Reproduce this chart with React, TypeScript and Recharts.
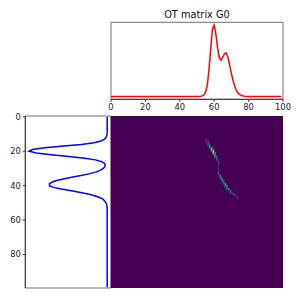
import { LineChart, Line, XAxis, YAxis, ReferenceArea, ScatterChart, Scatter } from 'recharts';

const topTicks = [0, 20, 40, 60, 80, 100];
const leftTicks = [0, 20, 40, 60, 80];

// target histogram, index 0..99
const targetValues = [
    0, 0, 0, 0, 0, 0, 0, 0, 0, 0,
    0, 0, 0, 0, 0, 0, 0, 0, 0, 0,
    0, 0, 0, 0, 0, 0, 0, 0, 0, 0,
    0, 0, 0, 0, 0, 0, 0, 0, 0, 0,
    0, 0, 0, 0, 0, 0, 0, 0, 0, 0,
    0, 0.001, 0.003, 0.008, 0.02, 0.06, 0.16, 0.38, 0.68, 0.95,
    1, 0.87, 0.68, 0.54, 0.51, 0.55, 0.6, 0.61, 0.55, 0.44,
    0.32, 0.22, 0.14, 0.08, 0.045, 0.025, 0.012, 0.005, 0.002, 0,
    0, 0, 0, 0, 0, 0, 0, 0, 0, 0,
    0, 0, 0, 0, 0, 0, 0, 0, 0, 0,
];

// source histogram, index 0..99
const sourceValues = [
    0, 0, 0, 0, 0, 0, 0, 0, 0, 0,
    0.002, 0.006, 0.015, 0.035, 0.08, 0.17, 0.33, 0.56, 0.8, 0.96,
    1, 0.91, 0.72, 0.49, 0.29, 0.15, 0.07, 0.035, 0.025, 0.03,
    0.05, 0.085, 0.14, 0.22, 0.32, 0.44, 0.55, 0.65, 0.71, 0.74,
    0.74, 0.69, 0.59, 0.46, 0.34, 0.23, 0.15, 0.09, 0.05, 0.03,
    0.015, 0.007, 0.003, 0.001, 0, 0, 0, 0, 0, 0,
    0, 0, 0, 0, 0, 0, 0, 0, 0, 0,
    0, 0, 0, 0, 0, 0, 0, 0, 0, 0,
    0, 0, 0, 0, 0, 0, 0, 0, 0, 0,
    0, 0, 0, 0, 0, 0, 0, 0, 0, 0,
];

// non zero cells of the matrix
const cellRows = [
    13, 14, 14, 15, 15, 16, 16, 17, 17, 18, 18, 19, 19, 20, 20, 21, 21, 22, 22, 23, 23, 24, 24, 25, 25,
    26, 27, 28, 29, 30, 31, 32, 33, 34, 34, 35, 35, 36, 36, 37, 37, 38, 38, 39, 39, 40, 40, 41, 41, 42, 42,
    43, 43, 44, 44, 45, 45, 46, 47, 48, 49,
];
const cellCols = [
    55, 55, 56, 56, 55, 56, 57, 57, 56, 58, 57, 58, 59, 59, 58, 59, 60, 60, 59, 60, 61, 61, 60, 61, 62,
    62, 62, 62, 62, 62, 62, 62, 62, 63, 62, 63, 64, 64, 63, 64, 65, 65, 64, 66, 65, 66, 67, 67, 66, 68, 67,
    69, 68, 69, 70, 71, 70, 72, 73, 73, 74,
];
const cellValues = [
    0.06, 0.14, 0.06, 0.28, 0.08, 0.38, 0.16, 0.55, 0.15, 0.6, 0.32, 0.85, 0.38, 1, 0.35, 0.85, 0.45, 0.72, 0.2, 0.5, 0.28, 0.38, 0.12, 0.26, 0.12,
    0.24, 0.18, 0.14, 0.12, 0.12, 0.14, 0.22, 0.3, 0.4, 0.1, 0.45, 0.12, 0.55, 0.14, 0.5, 0.25, 0.6, 0.15, 0.68, 0.25, 0.62, 0.3, 0.58, 0.2, 0.5, 0.2,
    0.45, 0.15, 0.4, 0.15, 0.34, 0.12, 0.26, 0.18, 0.1, 0.05,
];

const viridis = ['#440154', '#482878', '#3e4989', '#31688e', '#26828e', '#1f9e89', '#35b779', '#6ece58', '#b5de2b', '#fde725'];

const targetData = targetValues.map((v, i) => ({ i, v }));
const sourceData = sourceValues.map((v, i) => ({ i, v }));
const cellData = cellRows.map((row, k) => ({ row, col: cellCols[k], value: cellValues[k] }));

const font = 'DejaVu Sans';
const tickStyle = { fontSize: 8.4, fontFamily: font, fill: '#222' };

const cellShape = (props: any) => {
    const c = viridis[Math.min(9, Math.round(props.payload.value * 9))];
    return <rect x={props.cx - 0.86} y={props.cy - 0.86} width={1.72} height={1.72} fill={c} />;
};

export default function App() {
    return (
        <div style={{ position: 'fixed', left: 0, top: 0, width: 300, height: 300, background: '#fff' }}>
            <div style={{ position: 'absolute', left: 100, top: 0 }}>
                <LineChart width={200} height={116} data={targetData} margin={{ left: 11, right: 17, top: 22.3, bottom: 0.7 }}>
                    <text x={97} y={18} textAnchor="middle" fontSize={9.8} fontFamily={font} fill="#111">OT matrix G0</text>
                    <XAxis dataKey="i" type="number" domain={[0, 100]} ticks={topTicks} height={16} tick={tickStyle} tickSize={2.5} stroke="#333" interval={0} />
                    <YAxis hide domain={[-0.04, 1.04]} />
                    <ReferenceArea x1={0} x2={100} y1={-0.04} y2={1.04} fill="none" stroke="#333" strokeWidth={0.7} />
                    <Line dataKey="v" stroke="#ff0000" strokeWidth={1.5} dot={false} isAnimationActive={false} />
                </LineChart>
            </div>
            <div style={{ position: 'absolute', left: 0, top: 108 }}>
                <LineChart layout="vertical" width={112} height={182} data={sourceData} margin={{ left: 0.3, right: 1.3, top: 8, bottom: 2 }}>
                    <XAxis type="number" hide reversed domain={[-0.045, 1.05]} />
                    <YAxis dataKey="i" type="number" domain={[-0.5, 99.5]} ticks={leftTicks} width={25} tick={tickStyle} tickSize={2.5} stroke="#333" interval={0} />
                    <ReferenceArea x1={-0.045} x2={1.05} y1={-0.5} y2={99.5} fill="none" stroke="#333" strokeWidth={0.7} />
                    <Line dataKey="v" stroke="#0000ff" strokeWidth={1.5} dot={false} isAnimationActive={false} />
                </LineChart>
            </div>
            <div style={{ position: 'absolute', left: 111, top: 116, width: 172, height: 172, background: viridis[0] }}>
                <ScatterChart width={172} height={172} margin={{ left: 0, right: 0, top: 0, bottom: 0 }}>
                    <XAxis type="number" dataKey="col" hide domain={[-0.5, 99.5]} />
                    <YAxis type="number" dataKey="row" hide reversed domain={[-0.5, 99.5]} />
                    <Scatter data={cellData} shape={cellShape} isAnimationActive={false} />
                </ScatterChart>
            </div>
        </div>
    );
}
